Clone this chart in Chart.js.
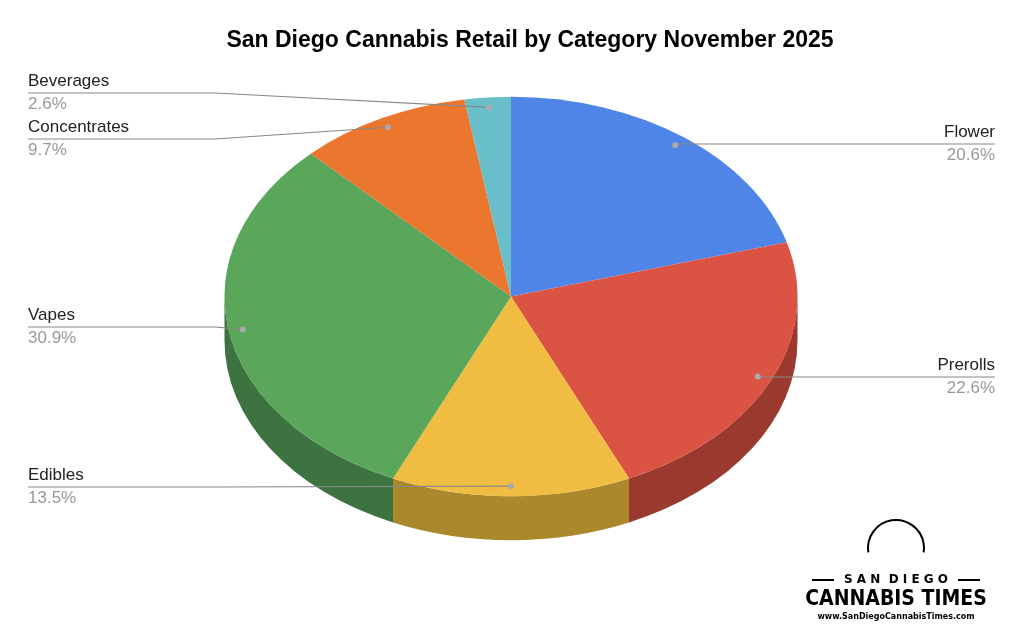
<!DOCTYPE html>
<html>
<head>
<meta charset="utf-8">
<script src="https://cdn.jsdelivr.net/npm/chart.js@4"></script>
<style>
  body { margin: 0; background: #fff; }
  #wrap { width: 1024px; height: 634px; position: relative; }
</style>
</head>
<body>
<div id="wrap"><canvas id="pie"></canvas></div>
<script>
// Chart data
const categories = ['Flower', 'Prerolls', 'Edibles', 'Vapes', 'Concentrates', 'Beverages'];
const shares = [20.6, 22.6, 13.5, 30.9, 9.7, 2.6];
const topColors = ['#5085E8', '#DB5443', '#F0BC41', '#5AA65A', '#EB762E', '#68BFC9'];
const sideColors = ['#3A62AD', '#9A3A2E', '#AB882C', '#3D7340', '#A8541F', '#4A8A92'];

const squash = 0.697;   // vertical flattening of the pie
const depth = 44;       // thickness of the 3D rim

// Label positions (side, y of the text line)
const labelPlaces = [
    { side: 'right', y: 144 },
    { side: 'right', y: 377 },
    { side: 'left', y: 487 },
    { side: 'left', y: 327 },
    { side: 'left', y: 139 },
    { side: 'left', y: 93 }
];

const pie3d = {
    id: 'pie3d',
    beforeDatasetsDraw(chart) {
        const ctx = chart.ctx;
        const arcs = chart.getDatasetMeta(0).data;
        // draw the rim (front half only)
        arcs.forEach((arc, i) => {
            const cx = arc.x, cy = arc.y, r = arc.outerRadius;
            let a0 = Math.max(arc.startAngle, 0);
            let a1 = Math.min(arc.endAngle, Math.PI);
            if (a1 <= a0) return;
            ctx.save();
            ctx.beginPath();
            ctx.ellipse(cx, cy, r, r * squash, 0, a0, a1);
            ctx.ellipse(cx, cy + depth, r, r * squash, 0, a1, a0, true);
            ctx.closePath();
            ctx.fillStyle = sideColors[i];
            ctx.fill();
            ctx.restore();
        });
        const a = arcs[0];
        ctx.save();
        ctx.translate(a.x, a.y);
        ctx.scale(1, squash);
        ctx.translate(-a.x, -a.y);
    },
    afterDatasetsDraw(chart) {
        const ctx = chart.ctx;
        ctx.restore();
        const arcs = chart.getDatasetMeta(0).data;
        // leader lines and labels
        arcs.forEach((arc, i) => {
            const mid = (arc.startAngle + arc.endAngle) / 2;
            const r = arc.outerRadius * 0.95;
            const dx = arc.x + Math.cos(mid) * r;
            const dy = arc.y + Math.sin(mid) * r * squash;
            const place = labelPlaces[i];
            const endX = place.side === 'right' ? 995 : 28;
            const kneeX = place.side === 'right' ? dx : 215;
            ctx.save();
            ctx.strokeStyle = '#888';
            ctx.lineWidth = 1.2;
            ctx.beginPath();
            ctx.moveTo(dx, dy);
            ctx.lineTo(kneeX, place.y);
            ctx.lineTo(endX, place.y);
            ctx.stroke();
            ctx.fillStyle = '#aaa';
            ctx.beginPath();
            ctx.arc(dx, dy, 3, 0, Math.PI * 2);
            ctx.fill();
            ctx.font = '17px "Liberation Sans", Arial, sans-serif';
            ctx.textAlign = place.side === 'right' ? 'right' : 'left';
            ctx.fillStyle = '#222';
            ctx.textBaseline = 'bottom';
            ctx.fillText(categories[i], endX, place.y - 3);
            ctx.fillStyle = '#999';
            ctx.textBaseline = 'top';
            ctx.fillText(shares[i].toFixed(1) + '%', endX, place.y + 3);
            ctx.restore();
        });
    },
    afterDraw(chart) {
        const ctx = chart.ctx;
        ctx.save();
        ctx.fillStyle = '#000';
        ctx.font = 'bold 23px "Liberation Sans", Arial, sans-serif';
        ctx.textAlign = 'center';
        ctx.textBaseline = 'middle';
        ctx.fillText('San Diego Cannabis Retail by Category November 2025', 530, 41);
        // logo
        ctx.font = 'bold 12px "DejaVu Sans", sans-serif';
        ctx.fillText('S A N  D I E G O', 896, 580);
        ctx.font = 'bold 21px "DejaVu Sans Condensed", "DejaVu Sans", sans-serif';
        ctx.fillText('CANNABIS TIMES', 896, 600);
        ctx.font = 'bold 8px "DejaVu Sans", sans-serif';
        ctx.fillText('www.SanDiegoCannabisTimes.com', 896, 617);
        ctx.lineWidth = 2;
        ctx.beginPath();
        ctx.moveTo(812, 580); ctx.lineTo(834, 580);
        ctx.moveTo(958, 580); ctx.lineTo(980, 580);
        ctx.stroke();
        ctx.beginPath();
        ctx.arc(896, 548, 28, Math.PI * 0.95, Math.PI * 2.05);
        ctx.stroke();
        ctx.restore();
    }
};

new Chart(document.getElementById('pie'), {
    type: 'pie',
    data: {
        labels: categories,
        datasets: [{
            data: shares,
            backgroundColor: topColors,
            borderWidth: 0
        }]
    },
    options: {
        responsive: true,
        maintainAspectRatio: false,
        animation: false,
        events: [],
        layout: { padding: { top: 10, bottom: 51, left: 111, right: 113 } },
        plugins: {
            legend: { display: false },
            tooltip: { enabled: false }
        }
    },
    plugins: [pie3d]
});
</script>
</body>
</html>
